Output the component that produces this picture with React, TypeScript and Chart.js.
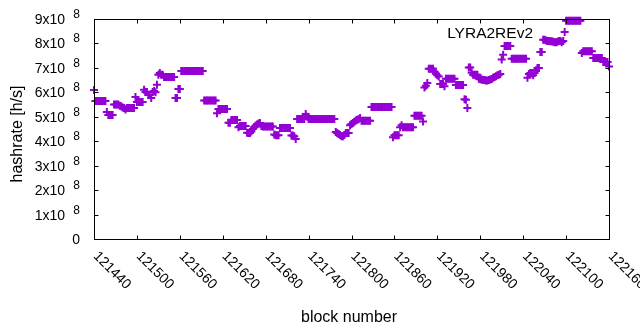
import React, { useEffect, useRef } from "react";
import { Chart, registerables } from "chart.js";

Chart.register(...registerables);

// Block numbers: one sample every BLOCK_STEP blocks starting at FIRST_BLOCK
const FIRST_BLOCK = 121440;
const BLOCK_STEP = 2;

// Hashrate in units of 1e8 h/s, one value per sampled block (121440 .. 122160)
const hashrate1e8: number[] = [
  6.1, 5.65, 5.65, 5.65, 5.65, 5.65, 5.65, 5.65, 5.65, 5.2,
  5.07, 5.07, 5.07, 5.07, 5.5, 5.5, 5.5, 5.5, 5.45, 5.43,
  5.38, 5.36, 5.3, 5.36, 5.36, 5.36, 5.36, 5.36, 5.36, 5.81,
  5.6, 5.6, 5.6, 5.6, 5.6, 6.11, 6.01, 6.01, 5.9, 5.9,
  5.77, 6.01, 6.05, 6.0, 6.31, 6.72, 6.79, 6.72, 6.72, 6.63,
  6.63, 6.63, 6.63, 6.63, 6.63, 6.63, 6.63, 5.77, 5.77, 6.14,
  6.14, 6.87, 6.87, 6.87, 6.87, 6.87, 6.87, 6.87, 6.87, 6.87,
  6.87, 6.87, 6.87, 6.87, 6.87, 6.87, 6.87, 5.67, 5.67, 5.67,
  5.67, 5.67, 5.67, 5.67, 5.67, 5.67, 5.14, 5.32, 5.32, 5.32,
  5.32, 5.32, 5.32, 5.32, 4.76, 4.76, 4.87, 4.87, 4.87, 4.87,
  4.87, 4.57, 4.62, 4.62, 4.62, 4.62, 4.62, 4.35, 4.34, 4.34,
  4.4, 4.5, 4.58, 4.64, 4.68, 4.72, 4.75, 4.62, 4.6, 4.6,
  4.6, 4.6, 4.6, 4.6, 4.6, 4.6, 4.28, 4.24, 4.24, 4.24,
  4.54, 4.54, 4.54, 4.54, 4.54, 4.54, 4.54, 4.54, 4.23, 4.23,
  4.2, 4.09, 4.91, 4.91, 4.91, 4.91, 4.91, 4.91, 5.11, 5.0,
  4.91, 4.91, 4.91, 4.91, 4.91, 4.91, 4.91, 4.91, 4.91, 4.91,
  4.91, 4.91, 4.91, 4.91, 4.91, 4.91, 4.91, 4.91, 4.91, 4.38,
  4.34, 4.3, 4.25, 4.2, 4.2, 4.25, 4.34, 4.34, 4.34, 4.65,
  4.7, 4.75, 4.8, 4.85, 4.88, 4.9, 4.95, 4.84, 4.84, 4.84,
  4.84, 4.84, 4.84, 4.84, 5.4, 5.4, 5.4, 5.4, 5.4, 5.4,
  5.4, 5.4, 5.4, 5.4, 5.4, 5.4, 5.4, 5.4, 5.4, 4.16,
  4.24, 4.24, 4.24, 4.24, 4.57, 4.65, 4.57, 4.57, 4.57, 4.57,
  4.57, 4.57, 4.57, 4.57, 5.04, 5.04, 5.04, 5.04, 5.04, 5.04,
  4.81, 6.2, 6.27, 6.38, 6.96, 6.96, 6.96, 6.96, 6.85, 6.76,
  6.7, 6.65, 6.34, 6.34, 6.34, 6.25, 6.56, 6.56, 6.56, 6.56,
  6.56, 6.56, 6.56, 6.3, 6.3, 6.3, 6.3, 6.3, 6.3, 5.72,
  5.7, 5.36, 7.02, 7.02, 6.8, 6.72, 6.72, 6.72, 6.72, 6.56,
  6.54, 6.52, 6.5, 6.5, 6.48, 6.48, 6.5, 6.52, 6.55, 6.6,
  6.63, 6.66, 6.7, 6.72, 6.75, 7.34, 7.54, 7.9, 7.9, 7.9,
  7.9, 7.9, 7.37, 7.37, 7.37, 7.37, 7.37, 7.37, 7.37, 7.37,
  7.37, 7.37, 7.37, 6.6, 6.75, 6.79, 6.79, 6.7, 6.79, 6.9,
  7.0, 7.0, 7.65, 7.65, 8.15, 8.15, 8.12, 8.1, 8.1, 8.09,
  8.09, 8.07, 8.05, 8.05, 8.07, 8.1, 8.1, 8.05, 8.1, 8.47,
  8.93, 8.93, 8.93, 8.93, 8.93, 8.93, 8.93, 8.93, 8.93, 8.93,
  8.93, 7.61, 7.68, 7.68, 7.68, 7.68, 7.68, 7.68, 7.68, 7.4,
  7.4, 7.4, 7.4, 7.4, 7.4, 7.4, 7.24, 7.24, 7.24, 7.24,
  7.06,
];

const xTickValues = [121440, 121500, 121560, 121620, 121680, 121740, 121800, 121860, 121920, 121980, 122040, 122100, 122160];
const yTickMantissas = [0, 1, 2, 3, 4, 5, 6, 7, 8, 9];
const yTickExponent = "8";
const seriesLabel = "LYRA2REv2";
const xTitle = "block number";
const yTitle = "hashrate [h/s]";

const COLOR = "#9400d3";
const FONT = '"Liberation Sans", Arial, sans-serif';

const framePlugin = {
  id: "gnuplotFrame",
  afterDraw(chart: any) {
    const ctx: CanvasRenderingContext2D = chart.ctx;
    const ca = chart.chartArea;
    const xs = chart.scales.x;
    const ys = chart.scales.y;
    const L = Math.round(ca.left) + 0.5;
    const R = Math.round(ca.right) + 0.5;
    const T = Math.round(ca.top) + 0.5;
    const B = Math.round(ca.bottom) + 0.5;
    ctx.save();
    ctx.strokeStyle = "#000";
    ctx.lineWidth = 1;
    ctx.strokeRect(L, T, R - L, B - T);
    const tl = 4;
    ctx.beginPath();
    for (const v of yTickMantissas) {
      const py = Math.round(ys.getPixelForValue(v * 1e8)) + 0.5;
      ctx.moveTo(L, py);
      ctx.lineTo(L + tl, py);
      ctx.moveTo(R, py);
      ctx.lineTo(R - tl, py);
    }
    for (const v of xTickValues) {
      const px = Math.round(xs.getPixelForValue(v)) + 0.5;
      ctx.moveTo(px, B);
      ctx.lineTo(px, B - tl);
      ctx.moveTo(px, T);
      ctx.lineTo(px, T + tl);
    }
    ctx.stroke();

    ctx.fillStyle = "#000";
    // y tick labels
    for (const v of yTickMantissas) {
      const py = ys.getPixelForValue(v * 1e8);
      ctx.textAlign = "right";
      ctx.textBaseline = "alphabetic";
      if (v === 0) {
        ctx.font = `14px ${FONT}`;
        ctx.fillText("0", 80, py + 5);
      } else {
        ctx.font = `14px ${FONT}`;
        ctx.fillText(`${v}x10`, 65, py + 5);
        ctx.font = `12px ${FONT}`;
        ctx.fillText(yTickExponent, 80, py - 1);
      }
    }
    // x tick labels, rotated 45deg
    ctx.font = `14px ${FONT}`;
    for (const v of xTickValues) {
      const px = xs.getPixelForValue(v);
      ctx.save();
      ctx.translate(px + 1.5, 254);
      ctx.rotate(Math.PI / 4);
      ctx.textAlign = "left";
      ctx.textBaseline = "middle";
      ctx.fillText(String(v), 0, 0);
      ctx.restore();
    }
    // axis titles
    ctx.font = `16px ${FONT}`;
    ctx.textAlign = "center";
    ctx.textBaseline = "alphabetic";
    ctx.fillText(xTitle, 349, 321.5);
    ctx.save();
    ctx.translate(21.5, 134);
    ctx.rotate(-Math.PI / 2);
    ctx.fillText(yTitle, 0, 0);
    ctx.restore();
    // key text
    ctx.font = `15.5px ${FONT}`;
    ctx.textAlign = "right";
    ctx.fillText(seriesLabel, 533, 37.7);
    ctx.restore();
  },
};

export default function App() {
  const canvasRef = useRef<HTMLCanvasElement | null>(null);
  useEffect(() => {
    document.body.style.margin = "0";
    const canvas = canvasRef.current;
    if (!canvas) return;
    const points = hashrate1e8.map((h, i) => ({ x: FIRST_BLOCK + i * BLOCK_STEP, y: h * 1e8 }));
    const chart = new Chart(canvas, {
      type: "scatter",
      data: {
        datasets: [
          {
            label: seriesLabel,
            data: points,
            pointStyle: "cross",
            pointRadius: 4,
            pointHoverRadius: 4,
            borderColor: COLOR,
            backgroundColor: COLOR,
            borderWidth: 2,
            showLine: false,
            clip: false,
          } as any,
        ],
      },
      options: {
        animation: false,
        responsive: false,
        events: [],
        layout: { padding: { left: 94, right: 31, top: 19, bottom: 91 } },
        plugins: { legend: { display: false }, tooltip: { enabled: false } },
        scales: {
          x: { type: "linear", min: 121440, max: 122160, display: false },
          y: { type: "linear", min: 0, max: 9e8, display: false },
        },
      },
      plugins: [framePlugin],
    });
    return () => chart.destroy();
  }, []);
  return (
    <div style={{ width: 640, height: 330, background: "#fff" }}>
      <canvas ref={canvasRef} width={640} height={330} style={{ display: "block" }} />
    </div>
  );
}
